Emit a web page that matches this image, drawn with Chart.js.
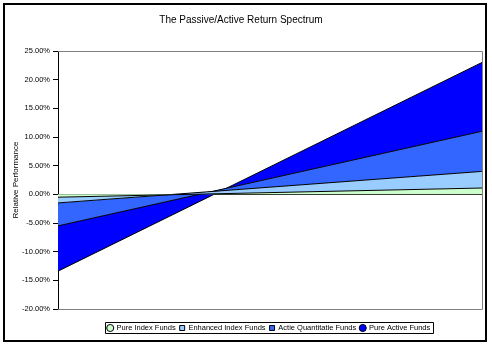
<!DOCTYPE html>
<html><head><meta charset="utf-8">
<script src="https://cdn.jsdelivr.net/npm/chart.js@4.4.0/dist/chart.umd.min.js"></script>
<style>html,body{margin:0;padding:0;background:#fff;}#wrap{width:492px;height:346px;position:relative;}</style>
</head><body><div id="wrap"><canvas id="c" width="492" height="346"></canvas></div>
<script>
// ---- data (percent) ----
const categories = ['', ''];
const seriesNames = ['Pure Index Funds', 'Enhanced Index Funds', 'Actie Quantitatie Funds', 'Pure Active Funds'];
const pureIndex = [-0.5, 1.1];
const enhancedIndex = [-1.5, 4.0];
const activeQuant = [-5.5, 11.0];
const pureActive = [-13.4, 23.0];
const yMin = -20, yMax = 25, yStep = 5;
const titleText = 'The Passive/Active Return Spectrum';
const yTitle = 'Relative Performance';

const FONT = '"Liberation Sans", Arial, sans-serif';
const colors = ['#CCFFCC', '#99CCFF', '#3366FF', '#0000FF'];
const markers = ['circle', 'rect', 'rect', 'circle'];
const values = [pureIndex, enhancedIndex, activeQuant, pureActive];
const fills = ['origin', '-1', '-1', '-1'];

const datasets = values.map((v, i) => ({
  label: seriesNames[i],
  data: v,
  backgroundColor: colors[i],
  borderColor: '#000',
  borderWidth: 1,
  pointRadius: 0,
  pointStyle: markers[i],
  tension: 0,
  fill: fills[i]
}));

const LEGEND_SHIFT = 28;

const framePlugin = {
  id: 'frame',
  afterLayout(chart) {
    const lg = chart.legend;
    if (lg) { lg.left += LEGEND_SHIFT; lg.right += LEGEND_SHIFT; }
  },
  beforeDraw(chart) {
    const ctx = chart.ctx;
    ctx.save();
    ctx.fillStyle = '#fff';
    ctx.fillRect(0, 0, chart.width, chart.height);
    ctx.restore();
  },
  afterDraw(chart) {
    const {ctx, chartArea: a} = chart;
    ctx.save();
    ctx.strokeStyle = '#808080';
    ctx.lineWidth = 1;
    ctx.beginPath();
    ctx.moveTo(Math.round(a.left), Math.round(a.top) + 0.5);
    ctx.lineTo(Math.round(a.right) + 0.5, Math.round(a.top) + 0.5);
    ctx.lineTo(Math.round(a.right) + 0.5, Math.round(a.bottom) + 0.5);
    ctx.lineTo(Math.round(a.left), Math.round(a.bottom) + 0.5);
    ctx.stroke();
    // legend box
    const hb = chart.legend.legendHitBoxes;
    if (hb && hb.length) {
      let l = Infinity, r = -Infinity, t = Infinity, b = -Infinity;
      hb.forEach(h => { l = Math.min(l, h.left); r = Math.max(r, h.left + h.width); t = Math.min(t, h.top); b = Math.max(b, h.top + h.height); });
      ctx.strokeStyle = '#000';
      ctx.beginPath();
      ctx.rect(Math.round(l - 3) + 0.5, Math.round(t - 2) + 0.5, Math.round(r - l + 5), Math.round(b - t + 3));
      ctx.stroke();
    }
    // outer frame
    ctx.strokeStyle = '#000';
    ctx.lineWidth = 2;
    ctx.strokeRect(4, 4, 482, 337);
    ctx.restore();
  }
};

new Chart(document.getElementById('c'), {
  type: 'line',
  data: { labels: categories, datasets },
  plugins: [framePlugin],
  options: {
    responsive: false,
    animation: false,
    layout: { padding: { left: 0, right: 10, top: 0, bottom: 4.25 } },
    plugins: {
      title: {
        display: true, text: titleText, color: '#000',
        font: { family: FONT, size: 10, weight: 'normal', lineHeight: 1.2 },
        padding: { top: 14.5, bottom: 24.5 }
      },
      legend: {
        position: 'bottom',
        labels: {
          color: '#000', usePointStyle: true, boxWidth: 5, boxHeight: 5, padding: 4,
          font: { family: FONT, size: 7.5 }
        }
      },
      tooltip: { enabled: false }
    },
    scales: {
      x: {
        display: true,
        grid: { display: false },
        border: { display: false },
        ticks: { display: false },
        afterFit(s) { s.height = 11.25; }
      },
      y: {
        min: yMin, max: yMax, z: 1,
        afterFit(s) { s.width = 58; },
        ticks: {
          stepSize: yStep, color: '#000', padding: 3,
          font: { family: FONT, size: 7.5 },
          callback: v => v.toFixed(2) + '%'
        },
        grid: {
          color: c => (c.tick && c.tick.value === 0) ? '#000' : 'rgba(0,0,0,0)',
          tickColor: '#000', tickLength: 5, lineWidth: 1
        },
        border: { display: true, color: '#000' },
        title: {
          display: true, text: yTitle, color: '#000',
          font: { family: FONT, size: 8, lineHeight: 1.2 },
          padding: { top: 11, bottom: 0 }
        }
      }
    }
  }
});
</script></body></html>
